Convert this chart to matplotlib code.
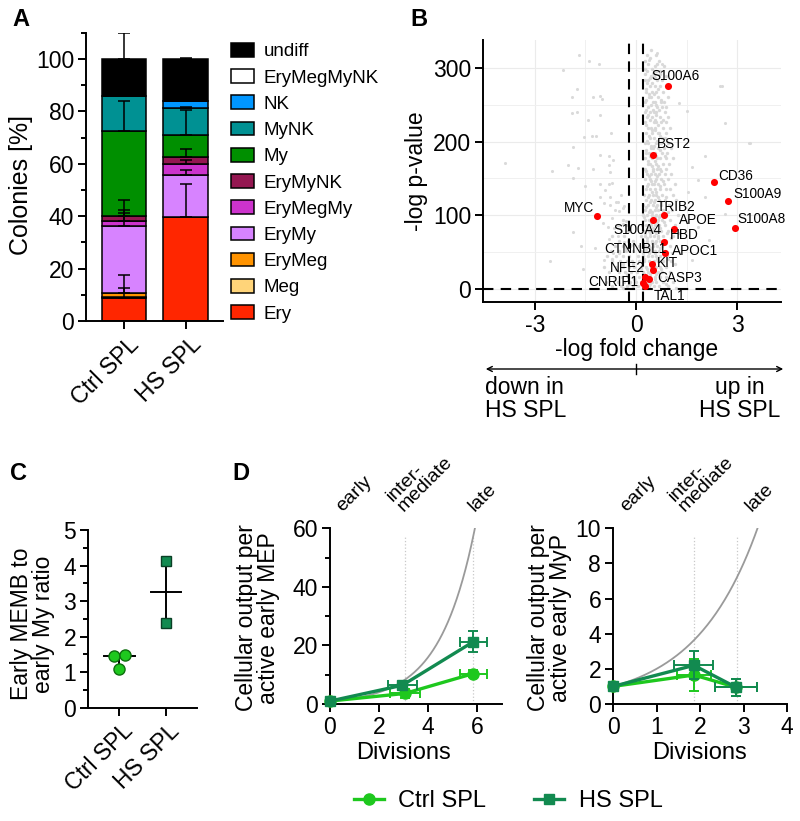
import numpy as np
import matplotlib
matplotlib.use('Agg')
import matplotlib.pyplot as plt
from matplotlib.patches import Patch
from matplotlib.lines import Line2D
from matplotlib.transforms import ScaledTranslation

plt.rcParams['font.family'] = ['Liberation Sans', 'DejaVu Sans']
plt.rcParams['axes.unicode_minus'] = False

# ---------------- Panel A data ----------------
groups_A = ['Ctrl SPL', 'HS SPL']
categories_A = ['Ery', 'Meg', 'EryMeg', 'EryMy', 'EryMegMy', 'EryMyNK',
                'My', 'MyNK', 'NK', 'EryMegMyNK', 'undiff']
ctrl_pct = [8.7, 0.4, 1.5, 25.8, 1.8, 2.0, 32.4, 13.1, 0.0, 0.0, 14.3]
hs_pct = [39.5, 0.0, 0.0, 16.1, 4.4, 2.5, 8.6, 10.2, 2.5, 0.0, 16.2]
ctrl_sd = [4.0, 0.0, 7.0, 6.0, 3.0, 6.0, 11.4, 0.0, 0.0, 0.0, 10.0]
hs_sd = [12.7, 0.0, 0.0, 2.1, 1.5, 3.2, 9.5, 0.5, 0.0, 0.0, 0.5]
colors_A = ['#FF2600', '#FFD479', '#FF9300', '#D783FF', '#CC33CC', '#941751',
            '#008F00', '#009193', '#0096FF', '#FFFFFF', '#000000']

# ---------------- Panel B data ----------------
genes = ['S100A6', 'BST2', 'CD36', 'S100A9', 'S100A8', 'MYC', 'TRIB2', 'S100A4',
         'APOE', 'HBD', 'APOC1', 'CTNNBL1', 'KIT', 'NFE2', 'CASP3', 'CNRIP1', 'TAL1']
gene_lfc = [0.96, 0.51, 2.31, 2.73, 2.93, -1.15, 0.84, 0.51,
            1.13, 0.83, 0.85, 0.39, 0.47, 0.27, 0.50, 0.22, 0.28]
gene_p = [275, 181.5, 144.8, 119.4, 83, 99, 100.3, 93,
          81.7, 63.6, 48, 13.6, 33.6, 16.3, 25.4, 8.2, 3.7]
# sparse background genes (x, y)
gray_pts = [
    (-1.70, 318), (-1.39, 309), (-1.09, 306), (-2.17, 297), (-1.75, 271), (-1.06, 262),
    (-1.01, 258), (-1.90, 260), (-1.27, 260), (-1.90, 239), (-1.76, 240), (-1.42, 229),
    (-1.06, 236), (-0.74, 211), (-1.54, 206), (-1.30, 207), (-1.18, 207), (-1.86, 193),
    (-1.06, 182), (-0.81, 180), (-0.69, 175), (-3.90, 171), (-2.50, 160), (-2.03, 168),
    (-1.73, 164), (-1.27, 162), (-0.81, 168), (-0.76, 159), (-1.86, 151), (-1.50, 140),
    (-1.06, 142), (-0.81, 142), (-0.71, 143), (-0.91, 134), (-1.08, 125), (-0.78, 125),
    (-0.96, 116), (-0.76, 114), (-0.54, 118), (-0.61, 107), (-0.39, 109), (-0.98, 89),
    (-0.83, 84), (-1.86, 77), (-1.63, 58), (-1.23, 55), (-0.96, 39), (-2.54, 37),
    (-1.58, 27), (-0.69, 48),
    (0.61, 320), (0.37, 311), (0.76, 305), (0.51, 293), (2.54, 275), (1.26, 252),
    (1.50, 241), (3.34, 198), (2.64, 225), (2.05, 180), (1.65, 166), (1.85, 148),
    (1.55, 132), (2.05, 125), (2.64, 102), (1.46, 111), (1.85, 84), (1.26, 75),
    (2.15, 66), (1.06, 48), (1.65, 39), (3.38, 198), (2.49, 275),
    (-0.45, 128), (-0.60, 118), (-0.35, 112), (-0.50, 105), (-0.70, 96), (-0.30, 92),
    (-0.40, 88), (-0.65, 82), (-0.25, 78), (-0.55, 72), (-0.80, 68), (-0.35, 64), (-0.15, 60),
]
# dense background cloud, listed row by row: (-log p, [fold changes])
cloud_rows = [
    (325, [0.45]), (318, [0.32, 0.58]), (313, [0.42]), (310, [0.27, 0.68]), (305, [0.35, 0.62]),
    (303, [0.55, 0.82]), (299, [0.48, 0.28]), (296, [0.33, 0.60, 0.72]),
    (292, [0.28, 0.70]), (289, [0.45, 0.52, 0.90]), (286, [0.40, 0.57]),
    (283, [0.27, 0.36, 0.63, 0.78]), (279, [0.33, 0.46]), (275, [0.40, 0.55, 0.70, 0.88]),
    (271, [0.64, 0.29]), (268, [0.30, 0.48, 0.58, 0.80]), (264, [0.52, 0.38]),
    (261, [0.37, 0.45, 0.66, 0.95]), (257, [0.75, 0.31]), (254, [0.26, 0.50, 0.56, 0.73, 0.84]),
    (250, [0.44, 0.60]), (247, [0.35, 0.62, 0.77, 0.90]), (243, [0.31, 0.68, 0.50]),
    (240, [0.28, 0.40, 0.53, 0.60, 0.86]), (236, [0.36, 0.58]), (233, [0.33, 0.46, 0.70, 0.95]),
    (229, [0.80, 0.42, 0.55]), (226, [0.26, 0.52, 0.60, 0.74, 0.88]), (222, [0.30, 0.65]),
    (219, [0.36, 0.43, 0.57, 0.80, 1.00]), (215, [0.48, 0.55]), (212, [0.29, 0.47, 0.64, 0.69, 0.90]),
    (208, [0.38, 0.72]), (205, [0.40, 0.52, 0.78, 0.86]), (201, [0.33, 0.62]),
    (198, [0.27, 0.35, 0.60, 0.73, 0.95]), (194, [0.45, 0.52]), (191, [0.43, 0.50, 0.66, 0.82, 1.05]),
    (188, [0.30, 0.70]), (184, [0.30, 0.38, 0.55, 0.77, 0.92]), (181, [0.40, 0.60, 0.85]),
    (177, [0.28, 0.46, 0.63, 0.70, 0.88, 1.10]), (174, [0.35, 0.56]), (170, [0.34, 0.41, 0.58, 0.80, 0.98]),
    (167, [0.47, 0.66]), (163, [0.26, 0.50, 0.62, 0.72, 0.90]), (160, [0.31, 0.75, 0.50]),
    (156, [0.32, 0.44, 0.55, 0.68, 0.85, 1.05]), (153, [0.38, 0.62]), (149, [0.27, 0.40, 0.60, 0.75, 0.96]),
    (146, [0.44, 0.55, 0.80]), (142, [0.35, 0.47, 0.52, 0.64, 0.82, 1.15]), (139, [0.33, 0.70]),
    (135, [0.29, 0.42, 0.56, 0.72, 0.90, 1.00]), (132, [0.48, 0.58]), (128, [0.25, 0.38, 0.50, 0.60, 0.78, 1.10]),
    (125, [0.36, 0.66, 0.90]), (121, [0.31, 0.45, 0.57, 0.69, 0.86, 1.20]), (118, [0.52, 0.42, 0.75]),
    (114, [0.22, 0.36, 0.50, 0.63, 0.74, 0.97]), (111, [0.30, 0.60]), (107, [0.28, 0.41, 0.55, 0.66, 0.80, 1.08]),
    (104, [0.46, 0.95, 0.38]), (100, [0.20, 0.33, 0.47, 0.59, 0.72, 0.90, 1.25]), (97, [0.68, 0.55, 0.25]),
    (93, [-0.40, 0.26, 0.39, 0.52, 0.66, 0.78, 1.00]), (90, [0.82, 0.44, 0.62]),
    (86, [-0.55, -0.30, 0.18, 0.31, 0.45, 0.57, 0.69, 0.85, 1.15]), (83, [0.35, 0.72, 0.50]),
    (79, [-0.45, -0.20, 0.24, 0.37, 0.50, 0.62, 0.75, 0.95]), (76, [0.28, 0.92, 0.58, 0.40]),
    (72, [-0.70, -0.35, 0.15, 0.28, 0.42, 0.54, 0.66, 0.80, 1.10]), (69, [1.05, 0.65, 0.32]),
    (65, [-0.50, -0.25, -0.10, 0.20, 0.33, 0.46, 0.58, 0.70, 0.90]), (62, [0.48, 0.80, 0.22, 0.56]),
    (58, [-0.62, -0.40, -0.18, 0.10, 0.26, 0.38, 0.50, 0.62, 0.78, 1.00]), (55, [0.30, 0.45, 0.70, -0.30]),
    (51, [-0.75, -0.50, -0.30, -0.08, 0.15, 0.30, 0.42, 0.55, 0.68, 0.85]), (48, [0.20, 0.55, 0.38, -0.50]),
    (44, [-0.85, -0.60, -0.38, -0.20, 0.05, 0.20, 0.34, 0.47, 0.60, 0.72, 0.92]), (41, [0.95, 0.62, 0.25, -0.70]),
    (37, [-0.70, -0.48, -0.28, -0.12, 0.10, 0.25, 0.38, 0.52, 0.65, 0.80, 1.05]), (34, [-0.40, -0.10, 0.48, 1.15]),
    (30, [-0.95, -0.58, -0.40, -0.22, -0.05, 0.14, 0.30, 0.44, 0.58, 0.70, 0.88]), (27, [0.33, 0.75, -0.60, 0.15]),
    (23, [-0.80, -0.50, -0.32, -0.15, 0.02, 0.20, 0.35, 0.50, 0.64, 0.78, 1.00]), (20, [0.58, -0.28, 0.40, 0.25]),
    (16, [-0.65, -0.42, -0.25, -0.08, 0.08, 0.26, 0.40, 0.55, 0.70, 0.90]), (13, [0.40, 0.25, -0.05, 0.55]),
    (9, [-0.90, -0.55, -0.35, -0.18, 0.00, 0.15, 0.32, 0.46, 0.60, 0.80, 1.10]), (6, [0.90, -0.22, 0.42]),
    (3, [-0.72, -0.45, -0.28, -0.10, 0.06, 0.22, 0.38, 0.52, 0.68, 0.95]), (1, [-0.40, 1.20, 0.20]),
]

# ---------------- Panel C data ----------------
groups_C = ['Ctrl SPL', 'HS SPL']
ctrl_ratio = [1.46, 1.47, 1.09]
hs_ratio = [4.12, 2.38]

# ---------------- Panel D data ----------------
mep_ctrl_x = [0, 3.05, 5.85]
mep_ctrl_y = [1, 3.6, 10.4]
mep_ctrl_xerr = [0, 0.62, 0.55]
mep_ctrl_yerr = [0, 1.5, 1.1]
mep_hs_x = [0, 2.95, 5.85]
mep_hs_y = [1, 6.4, 21.3]
mep_hs_xerr = [0, 0.6, 0.55]
mep_hs_yerr = [0, 1.2, 3.7]

myp_ctrl_x = [0, 1.86, 2.83]
myp_ctrl_y = [1, 1.65, 0.95]
myp_ctrl_xerr = [0, 0.4, 0.48]
myp_ctrl_yerr = [0, 0.9, 0.5]
myp_hs_x = [0, 1.86, 2.83]
myp_hs_y = [1, 2.2, 0.95]
myp_hs_xerr = [0, 0.45, 0.48]
myp_hs_yerr = [0, 0.8, 0.5]

stage_labels = ['early', 'inter-\nmediate', 'late']

CTRL = '#1EC81E'
HS = '#128A50'

W, H = 800, 821
fig = plt.figure(figsize=(W / 100, H / 100), dpi=100)


def rect(l, t, r, b):
    return [l / W, 1 - b / H, (r - l) / W, (b - t) / H]


TFS = 16.5
LW = 1.4


def style_ax(ax):
    for s in ['top', 'right']:
        ax.spines[s].set_visible(False)
    for s in ['left', 'bottom']:
        ax.spines[s].set_linewidth(LW)
    ax.tick_params(which='major', length=5.5, width=LW, labelsize=TFS, pad=3)
    ax.tick_params(which='minor', length=3.5, width=LW)


# ================= Panel A =================
axA = fig.add_axes(rect(86, 32.7, 222.7, 321))
style_ax(axA)
xA = np.arange(len(groups_A))
bottoms = np.zeros(2)
tops = []
for i, cat in enumerate(categories_A):
    vals = np.array([ctrl_pct[i], hs_pct[i]])
    axA.bar(xA, vals, bottom=bottoms, width=0.72, color=colors_A[i],
            edgecolor='black', linewidth=1.1, zorder=2)
    bottoms = bottoms + vals
    tops.append(bottoms.copy())
for i in range(len(categories_A)):
    for j, sds in enumerate([ctrl_sd, hs_sd]):
        if sds[i] > 0:
            axA.errorbar(xA[j], tops[i][j], yerr=[[0], [sds[i]]], fmt='none',
                         ecolor='black', elinewidth=1.1, capsize=4.3, capthick=1.1, zorder=3)
axA.set_xlim(-0.616, 1.6)
axA.set_ylim(0, 110)
axA.set_yticks([0, 20, 40, 60, 80, 100])
axA.set_yticks(np.arange(10, 111, 20), minor=True)
axA.set_xticks(xA)
axA.set_xticklabels(groups_A, rotation=45, ha='right', va='center', rotation_mode='anchor')
for lab in axA.get_xticklabels():
    lab.set_transform(lab.get_transform() + ScaledTranslation(0.12, -0.08, fig.dpi_scale_trans))
axA.set_ylabel('Colonies [%]', fontsize=18)
axA.yaxis.set_label_coords(-0.39, 0.47)
handles = [Patch(facecolor=colors_A[i], edgecolor='black', linewidth=1.1)
           for i in range(len(categories_A))][::-1]
fig.legend(handles, categories_A[::-1], loc='upper left', bbox_to_anchor=(231 / W, 1 - 43 / H),
           frameon=False, fontsize=13.5, handlelength=1.2, handleheight=0.75,
           handletextpad=0.55, labelspacing=0.47, borderpad=0, borderaxespad=0)

# ================= Panel B =================
axB = fig.add_axes(rect(483, 40, 781, 301.7))
style_ax(axB)
axB.set_xlim(-4.54, 4.3)
axB.set_ylim(-17.7, 338)
axB.set_xticks([-3, 0, 3])
axB.set_xticks([-1.5, 1.5], minor=True)
axB.set_yticks([0, 100, 200, 300])
axB.set_yticks([50, 150, 250], minor=True)
axB.tick_params(which='minor', length=0)
axB.grid(True, which='major', color='#EBEBEB', lw=0.8, zorder=0)
axB.grid(True, which='minor', color='#F0F0F0', lw=0.7, zorder=0)
axB.set_axisbelow(True)
gx = [p[0] for p in gray_pts]
gy = [p[1] for p in gray_pts]
axB.scatter(gx, gy, s=5, color='#DADADA', linewidths=0, zorder=1)
cx_ = [x for y, xs in cloud_rows for x in xs]
cy_ = [y for y, xs in cloud_rows for x in xs]
axB.scatter(cx_, cy_, s=6, color='#D8D8D8', linewidths=0, zorder=1)
axB.axvline(-0.2, color='black', lw=1.5, ls=(0, (5, 3.5)), zorder=2)
axB.axvline(0.2, color='black', lw=1.5, ls=(0, (5, 3.5)), zorder=2)
axB.axhline(0, color='black', lw=1.5, ls=(0, (5, 3.5)), zorder=2)
axB.scatter(gene_lfc, gene_p, s=26, color='#FF0000', linewidths=0, zorder=4)
label_off = {
    'S100A6': (-17, 10, 'left'), 'BST2': (4, 11, 'left'), 'CD36': (4, 6, 'left'),
    'S100A9': (5, 7, 'left'), 'S100A8': (3, 9, 'left'), 'MYC': (-3, 8, 'right'),
    'TRIB2': (-8, 8, 'left'), 'S100A4': (8, -10, 'right'), 'APOE': (5, 9, 'left'),
    'HBD': (6, 7, 'left'), 'APOC1': (7, 2, 'left'), 'CTNNBL1': (17, 30, 'right'),
    'KIT': (5, 1, 'left'), 'NFE2': (0, 9, 'right'), 'CASP3': (4, -8, 'left'),
    'CNRIP1': (-5, 1, 'right'), 'TAL1': (8, -10, 'left'),
}
for g, x, y in zip(genes, gene_lfc, gene_p):
    dx, dy, ha = label_off[g]
    axB.annotate(g, (x, y), xytext=(dx, dy), textcoords='offset pixels',
                 ha=ha, va='center', fontsize=9.8, zorder=5)
axB.set_ylabel('-log p-value', fontsize=TFS)
axB.yaxis.set_label_coords(-0.185, 0.5)
axB.set_xlabel('-log fold change', fontsize=TFS)
axB.xaxis.set_label_coords(0.515, -0.14)
# arrow below B
fig.add_artist(matplotlib.patches.FancyArrowPatch((483 / W, 1 - 369 / H), (786 / W, 1 - 369 / H),
                                                  transform=fig.transFigure, arrowstyle='<->',
                                                  mutation_scale=9, lw=1.0, color='black'))
fig.add_artist(Line2D([636 / W, 636 / W], [1 - 364 / H, 1 - 374 / H], transform=fig.transFigure,
                      color='black', lw=1.0))
fig.text(485 / W, 1 - 376 / H, 'down in\nHS SPL', fontsize=TFS, ha='left', va='top', linespacing=1.0)
fig.text(740 / W, 1 - 376 / H, 'up in\nHS SPL', fontsize=TFS, ha='center', va='top',
         linespacing=1.0, multialignment='center')

# ================= Panel C =================
axC = fig.add_axes(rect(88, 530, 196.7, 707.7))
style_ax(axC)
axC.set_xlim(-0.67, 1.657)
axC.set_ylim(0, 5)
axC.set_yticks([0, 1, 2, 3, 4, 5])
axC.set_yticks(np.arange(0.5, 5, 1.0), minor=True)
axC.set_xticks([0, 1])
axC.set_xticklabels(groups_C, rotation=45, ha='right', va='center', rotation_mode='anchor')
for lab in axC.get_xticklabels():
    lab.set_transform(lab.get_transform() + ScaledTranslation(0.1, -0.08, fig.dpi_scale_trans))
ctrl_jit = [-0.12, 0.12, 0.0]
for j, (vals, xc) in enumerate([(ctrl_ratio, 0), (hs_ratio, 1)]):
    med = np.median(vals)
    axC.plot([xc - 0.33, xc + 0.33], [med, med], color='black', lw=1.4, zorder=2)
    axC.plot([xc, xc], [min(vals), max(vals)], color='black', lw=1.4, zorder=2)
axC.plot(np.array(ctrl_jit), ctrl_ratio, 'o', ms=8.0, mfc=CTRL, mec='#0E6E0E', mew=1.0,
         zorder=3, clip_on=False)
axC.plot([1] * len(hs_ratio), hs_ratio, 's', ms=7.5, mfc=HS, mec='#0A3F25', mew=1.0,
         zorder=3, clip_on=False)
axC.set_ylabel('Early MEMB to\nearly My ratio', fontsize=TFS, linespacing=0.95)
axC.yaxis.set_label_coords(-0.30, 0.47)


# ================= Panel D =================
def panel_d(ax, cx, cy, cxe, cye, hx, hy, hxe, hye, xmax, ymax, stage_x, curve_xmax, lab):
    style_ax(ax)
    ax.set_xlim(0, xmax)
    ax.set_ylim(0, ymax)
    xs = np.linspace(0, curve_xmax, 200)
    ax.plot(xs, 2 ** xs, color='#9A9A9A', lw=1.3, zorder=1)
    for sx in stage_x[1:]:
        ax.plot([sx, sx], [0, ymax * 0.95], color='#C8C8C8', lw=0.9, ls=':', zorder=0)
    ax.errorbar(cx, cy, xerr=cxe, yerr=cye, color=CTRL, lw=2.4, marker='o', ms=8,
                elinewidth=1.4, capsize=3.5, capthick=1.4, zorder=3, clip_on=False)
    ax.errorbar(hx, hy, xerr=hxe, yerr=hye, color=HS, lw=2.4, marker='s', ms=7.5,
                elinewidth=1.4, capsize=3.5, capthick=1.4, zorder=4, clip_on=False)
    ax.set_xlabel('Divisions', fontsize=17)
    ax.set_ylabel(lab, fontsize=TFS, linespacing=0.95)


axD1 = fig.add_axes(rect(330, 528.3, 501.7, 704))
panel_d(axD1, mep_ctrl_x, mep_ctrl_y, mep_ctrl_xerr, mep_ctrl_yerr,
        mep_hs_x, mep_hs_y, mep_hs_xerr, mep_hs_yerr, 7, 60, [0, 3.05, 5.85], 5.907,
        'Cellular output per\nactive early MEP')
axD1.set_xticks([0, 2, 4, 6])
axD1.set_yticks([0, 20, 40, 60])
axD1.set_yticks([10, 30, 50], minor=True)
axD1.yaxis.set_label_coords(-0.29, 0.49)
axD1.xaxis.set_label_coords(0.43, -0.215)
for txt, x in zip(stage_labels, [0.6, 3.1, 6.0]):
    axD1.text(x, 64.5, txt, rotation=45, rotation_mode='anchor', ha='left', va='bottom',
              fontsize=14, linespacing=0.85, clip_on=False)

axD2 = fig.add_axes(rect(613, 528.3, 787, 704))
panel_d(axD2, myp_ctrl_x, myp_ctrl_y, myp_ctrl_xerr, myp_ctrl_yerr,
        myp_hs_x, myp_hs_y, myp_hs_xerr, myp_hs_yerr, 4, 10, [0, 1.86, 2.86], 3.322,
        'Cellular output per\nactive early MyP')
axD2.set_xticks([0, 1, 2, 3, 4])
axD2.set_yticks([0, 2, 4, 6, 8, 10])
axD2.yaxis.set_label_coords(-0.237, 0.49)
axD2.xaxis.set_label_coords(0.5, -0.215)
for txt, x in zip(stage_labels, [0.38, 1.72, 3.25]):
    axD2.text(x, 10.75, txt, rotation=45, rotation_mode='anchor', ha='left', va='bottom',
              fontsize=14, linespacing=0.85, clip_on=False)

# bottom legend
leg_handles = [Line2D([0], [0], color=CTRL, lw=2.4, marker='o', ms=8),
               Line2D([0], [0], color=HS, lw=2.4, marker='s', ms=7.5)]
fig.legend(leg_handles, ['Ctrl SPL', 'HS SPL'], loc='center', bbox_to_anchor=(508 / W, 1 - 801 / H),
           ncol=2, frameon=False, fontsize=17, handlelength=1.3, handletextpad=0.6,
           columnspacing=2.0, borderpad=0, borderaxespad=0)

# panel letters
for letter, (x, y) in {'A': (12, 8), 'B': (410, 8), 'C': (10, 462), 'D': (232, 462)}.items():
    fig.text(x / W, 1 - y / H, letter, fontsize=17, fontweight='bold', ha='left', va='top')

fig.savefig('out.png', dpi=100)
